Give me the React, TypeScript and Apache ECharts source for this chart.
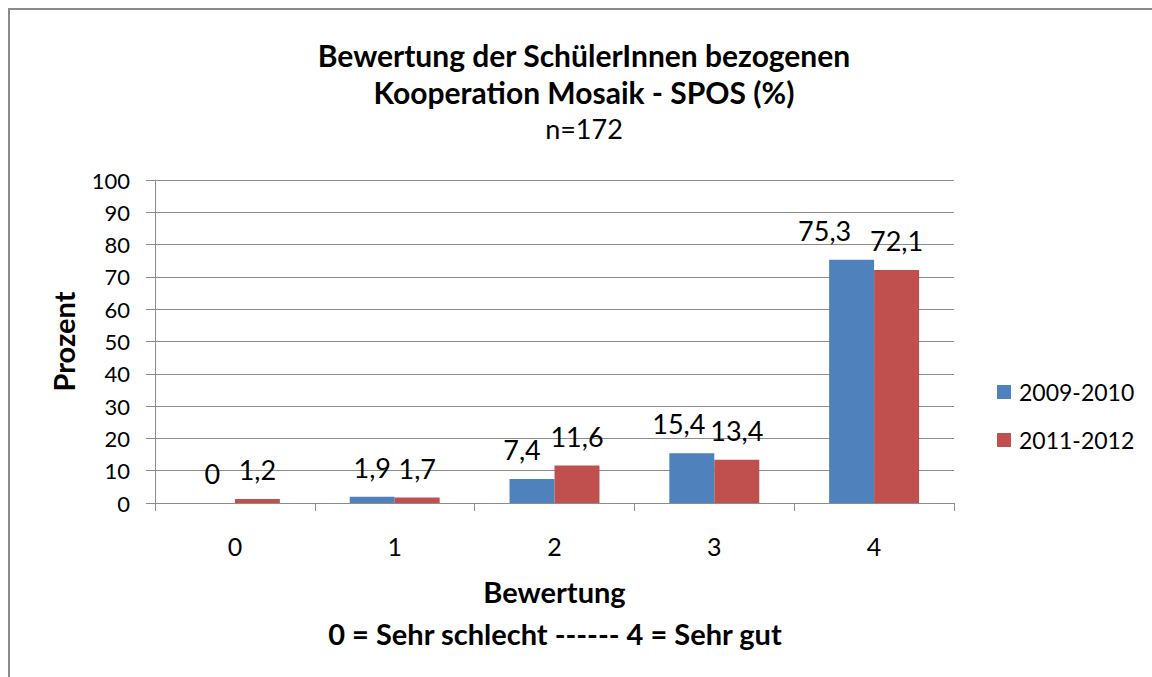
import React, { useEffect, useRef } from "react";
import * as echarts from "echarts";

const categories = ["0", "1", "2", "3", "4"];
const seriesNames = ["2009-2010", "2011-2012"];
const values2009 = [0, 1.9, 7.4, 15.4, 75.3];
const values2011 = [1.2, 1.7, 11.6, 13.4, 72.1];
const yTicks = [0, 10, 20, 30, 40, 50, 60, 70, 80, 90, 100];
const titleLines = ["Bewertung der SchülerInnen bezogenen", "Kooperation Mosaik - SPOS (%)"];
const subtitle = "n=172";
const xAxisName = "Bewertung";
const xAxisNote = "0 = Sehr schlecht ------ 4 = Sehr gut";
const yAxisName = "Prozent";

// label horizontal nudges (styling only), as in the original layout
const label2009Shift = [0, 0, -10, -13, -27];

const FONT = "Lato, 'Open Sans', sans-serif";
const GRID = "#8c8c8c";

export default function App() {
  const ref = useRef<HTMLDivElement>(null);
  useEffect(() => {
    if (!ref.current) return;
    const chart = echarts.init(ref.current, undefined, { renderer: "svg" });
    const fmt = (p: any) => String(p.value).replace(".", ",");
    const labelBase = {
      show: true,
      position: "top",
      distance: 16,
      fontFamily: FONT,
      fontSize: 27,
      color: "#000",
      formatter: fmt,
    };
    const txt = (text: string, x: number, y: number, size: number, bold: boolean) => ({
      type: "text",
      x,
      y,
      style: {
        text,
        align: "center",
        verticalAlign: "middle",
        fontFamily: FONT,
        fontWeight: bold ? "bold" : "normal",
        fontSize: size,
        fill: "#000",
      },
    });
    chart.setOption({
      animation: false,
      textStyle: { fontFamily: FONT },
      graphic: [
        txt(titleLines[0], 584, 55, 30, true),
        txt(titleLines[1], 584, 92, 30, true),
        txt(subtitle, 584, 128, 27, false),
        txt(xAxisNote, 555, 633, 29, true),
      ],
      legend: {
        orient: "vertical",
        left: 997,
        top: 380,
        padding: 0,
        itemWidth: 14,
        itemHeight: 14,
        itemGap: 24,
        icon: "rect",
        data: seriesNames,
        textStyle: {
          fontFamily: FONT,
          fontSize: 23,
          color: "#000",
          lineHeight: 24,
          padding: [0, 0, 0, 3],
        },
      },
      grid: { left: 155, top: 180, width: 799, height: 323, containLabel: false },
      xAxis: {
        type: "category",
        data: categories,
        name: xAxisName,
        nameLocation: "middle",
        nameGap: 74,
        nameTextStyle: { fontFamily: FONT, fontWeight: "bold", fontSize: 29, color: "#000" },
        axisLine: { lineStyle: { color: GRID, width: 1 } },
        axisTick: { show: true, length: 8, lineStyle: { color: GRID } },
        axisLabel: { fontFamily: FONT, fontSize: 25, color: "#000", margin: 30 },
        splitLine: { show: false },
      },
      yAxis: {
        type: "value",
        min: yTicks[0],
        max: yTicks[yTicks.length - 1],
        interval: 10,
        name: yAxisName,
        nameLocation: "middle",
        nameGap: 77,
        nameRotate: 90,
        nameTextStyle: { fontFamily: FONT, fontWeight: "bold", fontSize: 29, color: "#000" },
        axisLine: { show: true, lineStyle: { color: GRID, width: 1 } },
        axisTick: { show: true, length: 9, lineStyle: { color: GRID } },
        axisLabel: { fontFamily: FONT, fontSize: 22, color: "#000", margin: 25 },
        splitLine: { show: true, lineStyle: { color: GRID, width: 1 } },
      },
      series: [
        {
          name: seriesNames[0],
          type: "bar",
          barGap: "0%",
          barCategoryGap: "43.7%",
          itemStyle: { color: "#4F81BD" },
          label: labelBase,
          data: values2009.map((v, i) => ({
            value: v,
            label: { offset: [label2009Shift[i], 0] },
          })),
        },
        {
          name: seriesNames[1],
          type: "bar",
          barGap: "0%",
          barCategoryGap: "43.7%",
          itemStyle: { color: "#C0504D" },
          label: labelBase,
          data: values2011,
        },
      ],
    });
    return () => chart.dispose();
  }, []);
  return (
    <div
      style={{
        position: "fixed",
        left: 0,
        top: 0,
        width: 1152,
        height: 677,
        overflow: "hidden",
        background: "#fff",
      }}
    >
      <div
        style={{
          position: "absolute",
          left: 8,
          top: 8,
          width: 1300,
          height: 800,
          borderTop: "2px solid #8a8a8a",
          borderLeft: "2px solid #8a8a8a",
        }}
      />
      <div ref={ref} style={{ position: "absolute", left: 0, top: 0, width: 1152, height: 677 }} />
    </div>
  );
}
